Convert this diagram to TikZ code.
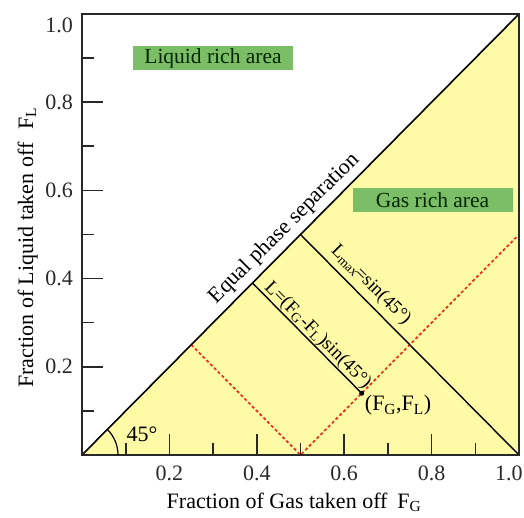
\documentclass[tikz,border=0pt]{standalone}
\usepackage{fontspec}
\setmainfont{Liberation Serif}
\newfontfamily\tnr{Liberation Serif}
\definecolor{fillyellow}{RGB}{255,250,165}
\definecolor{boxgreen}{RGB}{124,190,102}
\definecolor{dashred}{RGB}{236,45,30}
\definecolor{axisgray}{RGB}{40,40,40}
\tikzset{
  axisline/.style={line width=1.6pt, draw=axisgray},
  mainline/.style={line width=1.6pt, draw=black},
  thinline/.style={line width=1.4pt, draw=black},
  redline/.style={draw=dashred, line width=1.7pt, dash pattern=on 3pt off 2.4pt},
  ticklab/.style={font=\tnr\fontsize{22}{26}\selectfont, text=axisgray, inner sep=0pt},
  axtitle/.style={font=\tnr\fontsize{22}{26}\selectfont, inner sep=0pt},
  areabox/.style={fill=boxgreen, minimum width=160pt, minimum height=24pt, inner sep=0pt, font=\tnr\fontsize{21.5}{24}\selectfont, text=black!85!green},
  linelab/.style={font=\tnr\fontsize{19}{22}\selectfont, inner sep=0pt},
  dotnode/.style={circle, fill=black, inner sep=0pt, minimum size=5pt},
}
\begin{document}
\begin{tikzpicture}[x=1pt,y=1pt]
\useasboundingbox (0,0) rectangle (524,517);
\begin{scope}[shift={(82pt,62pt)}, x=437pt, y=441pt]
\coordinate (O) at (0,0);
\coordinate (XE) at (1,0);
\coordinate (TR) at (1,1);
\coordinate (YE) at (0,1);
\coordinate (M) at (0.5,0.5);
\coordinate (H) at (0.5,0);
\coordinate (Q) at (0.25,0.25);
\coordinate (R) at (1,0.5);
\coordinate (S) at (0.39,0.39);
\fill[fillyellow] (O) -- (XE) -- (TR) -- cycle;
% ticks
\foreach \t/\n in {0.2/2,0.4/4,0.6/6,0.8/8} {
  \draw[axisline] (\t,0) -- ++(0,21pt);
  \draw[axisline] (0,\t) -- ++(21pt,0);
  \node[ticklab] (xl\n) at (\t,-0.0408) {\t};
  \node[ticklab, anchor=east] (yl\n) at (-0.0206,\t) {\t};
}
\foreach \t in {0.1,0.3,0.5,0.7,0.9} {
  \draw[axisline] (\t,0) -- ++(0,12pt);
  \draw[axisline] (0,\t) -- ++(12pt,0);
}
\node[ticklab] (xl10) at (0.977,-0.0408) {1.0};
\node[ticklab, anchor=east] (yl10) at (-0.0206,0.975) {1.0};
% red construction lines
\draw[redline] (Q) -- (H) -- (R);
% lines
\node[dotnode] (P) at (0.64,0.14) {};
\draw[mainline] (O) -- (TR);
\draw[thinline] (M) -- (XE);
\draw[thinline] (S) -- (P.center);
\draw[axisline] (O) rectangle (TR);
% angle arc
\draw[line width=1.2pt] ([xshift=36pt]O) arc[start angle=0, end angle=45, radius=36pt];
% labels
\node[axtitle, anchor=base] (ang) at (0.1373,0.0302) {45°};
\node[axtitle, anchor=base, rotate=45] (eq) at (0.4723,0.5048) {Equal phase separation};
\node[linelab, anchor=base, rotate=-45] (lmax) at (0.6538,0.378) {L\textsubscript{max}\hspace{-2.5pt}=sin(45°)};
\node[linelab, anchor=base, rotate=-45] (ll) at (0.5318,0.2639) {L=(F\textsubscript{G}-F\textsubscript{L})sin(45°)};
\node[axtitle, anchor=base] (pl) at (0.7231,0.0998) {(F\textsubscript{G},F\textsubscript{L})};
\node[areabox] (liq) at (0.2998,0.9002) {Liquid rich area};
\node[areabox] (gas) at (0.8021,0.5771) {Gas rich area};
\end{scope}
\node[axtitle, anchor=base] (xt) at (294,9) {Fraction of Gas taken off\hspace{0.45em}F\textsubscript{G}};
\node[axtitle, anchor=base, rotate=90] (yt) at (33,269.5) {Fraction of Liquid taken off\hspace{0.6em}F\textsubscript{L}};
\end{tikzpicture}
\end{document}
